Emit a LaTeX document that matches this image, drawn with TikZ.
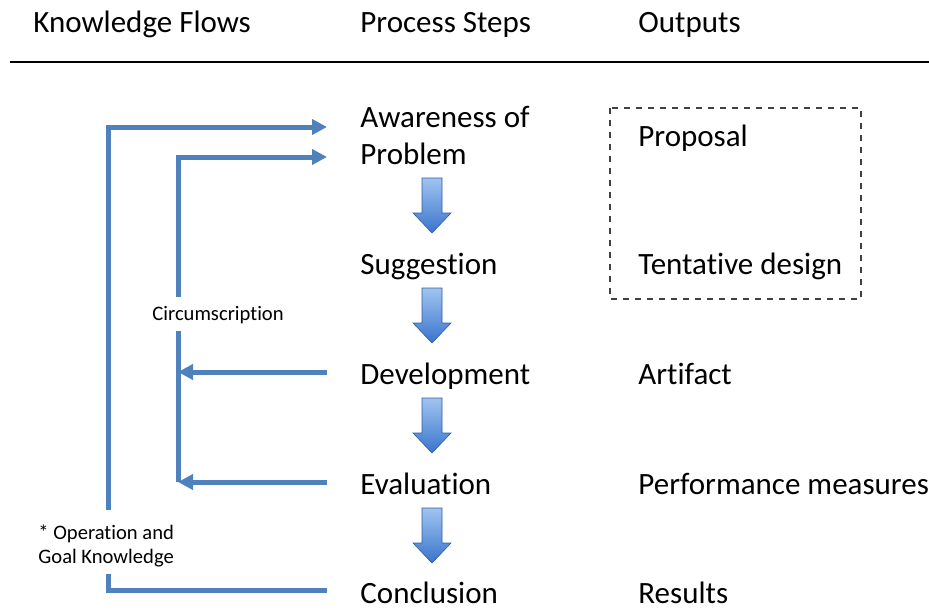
\documentclass[tikz,border=0pt]{standalone}
\usepackage{fontspec}
\setmainfont{Carlito}[Ligatures={NoCommon}]
\usetikzlibrary{arrows.meta}
\definecolor{flowblue}{RGB}{79,129,189}
\definecolor{arrowtop}{RGB}{160,196,240}
\definecolor{arrowbot}{RGB}{58,116,204}
\tikzset{
  flow/.style = {draw = flowblue, line width = 2.5pt, -{Triangle[length=7.5pt,width=7.5pt]}},
  flowline/.style = {draw = flowblue, line width = 2.5pt},
  big/.style = {font = \fontsize{15.5}{18}\selectfont, inner sep = 0pt, anchor = base west},
  small/.style = {font = \fontsize{10.3}{12.5}\selectfont, inner sep = 0pt, anchor = base west},
  blockarrow/.style = {top color = arrowtop, bottom color = arrowbot, draw = arrowbot!80!black, line width = 0.3pt}
}
\begin{document}
\begin{tikzpicture}[x = 0.5pt, y = -0.5pt]
\useasboundingbox (0,0) rectangle (929,610);
% headings
\node[big] (hflow) at (33,33) {Knowledge Flows};
\node[big] (hstep) at (360,33) {Process Steps};
\node[big] (hout) at (638,33) {Outputs};
\draw[line width = 0.6pt] (10,62) -- (929,62);
% process steps
\node[big] (aware) at (360,127) {Awareness of};
\node[big] (problem) at (360,164) {Problem};
\node[big] (suggest) at (360,274) {Suggestion};
\node[big] (develop) at (360,384) {Development};
\node[big] (evaluate) at (360,494) {Evaluation};
\node[big] (conclude) at (360,603) {Conclusion};
% outputs
\node[big] (proposal) at (638,146) {Proposal};
\node[big] (tentative) at (638,274) {Tentative design};
\node[big] (artifact) at (638,384) {Artifact};
\node[big] (perform) at (638,494) {Performance measures};
\node[big] (results) at (638,603) {Results};
\draw[dashed, draw = black!75, line width = 0.6pt] (610,108) rectangle (861,299);
% block arrows between the steps
\foreach \t in {178,288,398,508}
  \draw[blockarrow] (422,\t) -- (442,\t) -- (442,\t+35) -- (451,\t+35) -- (432,\t+55) -- (413,\t+35) -- (422,\t+35) -- cycle;
% knowledge flows
\node[small] (circ) at (152,320) {Circumscription};
\node[small] (opgoal) at (38,539) {* Operation and};
\node[small] (goalk) at (38,563) {Goal Knowledge};
\coordinate (outerA) at (108,510);
\coordinate (outerB) at (108,574);
\coordinate (innerA) at (178,297);
\coordinate (innerB) at (178,331);
\coordinate (inAware) at (327,127);
\coordinate (inProblem) at (327,157);
\coordinate (fromDev) at (327,372);
\coordinate (toDev) at (178,372);
\coordinate (fromEval) at (327,482);
\coordinate (toEval) at (178,482);
\coordinate (fromConc) at (327,590);
\draw[flow] (outerA) |- (inAware);
\draw[flowline] (outerB) |- (fromConc);
\draw[flow] (innerA) |- (inProblem);
\draw[flowline] (innerB) -- (toEval);
\draw[flow] (fromDev) -- (toDev);
\draw[flow] (fromEval) -- (toEval);
\end{tikzpicture}
\end{document}
